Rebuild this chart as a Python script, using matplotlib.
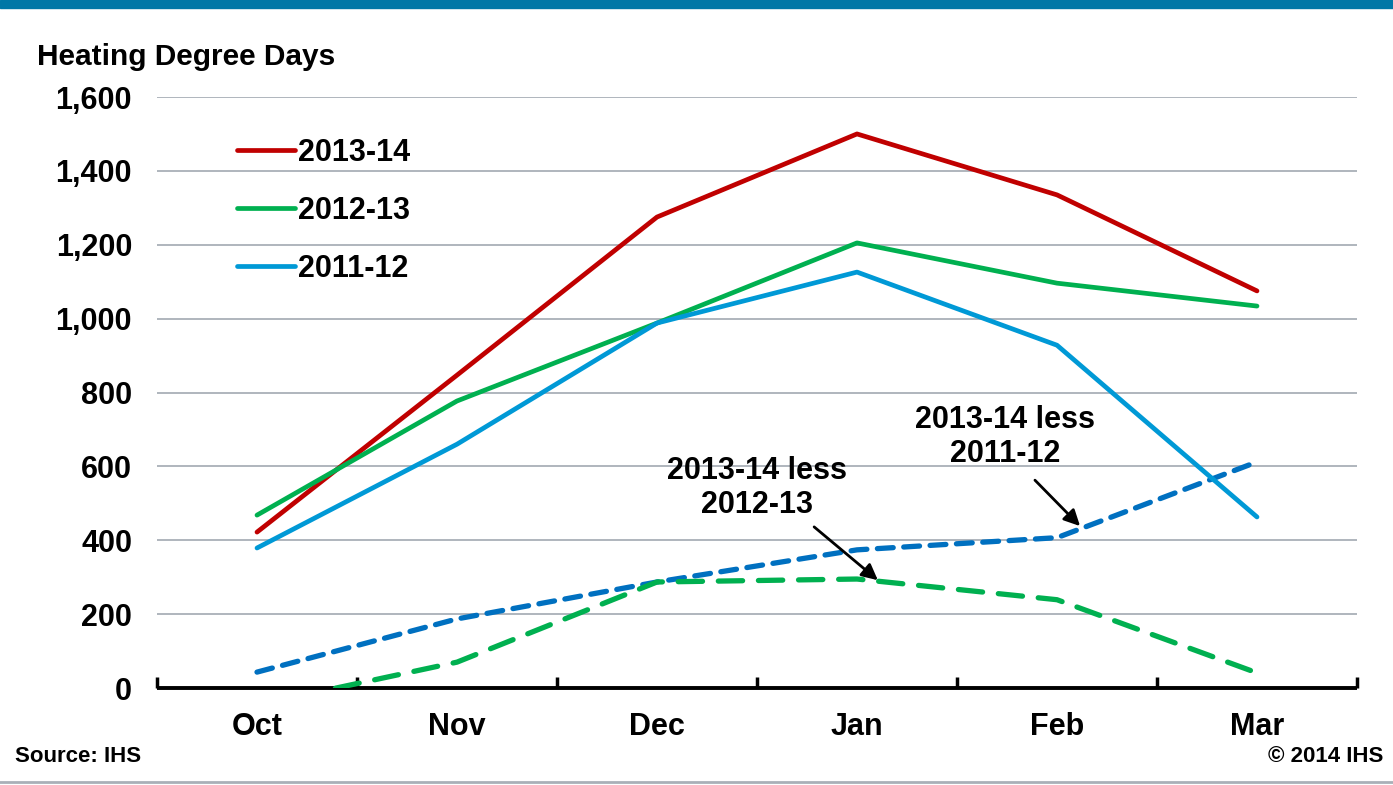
import numpy as np
import matplotlib.pyplot as plt
from matplotlib.patches import Rectangle
from matplotlib.lines import Line2D

plt.rcParams['font.family'] = ['Liberation Sans', 'DejaVu Sans']
plt.rcParams['font.weight'] = 'bold'

# Data
months = ['Oct', 'Nov', 'Dec', 'Jan', 'Feb', 'Mar']
hdd_2013_14 = [422, 847, 1275, 1500, 1335, 1075]
hdd_2012_13 = [468, 777, 988, 1205, 1096, 1034]
hdd_2011_12 = [379, 660, 988, 1126, 928, 463]
less_2012_13 = [-46, 70, 287, 295, 239, 41]
less_2011_12 = [43, 187, 287, 374, 407, 612]
yticks = [0, 200, 400, 600, 800, 1000, 1200, 1400, 1600]

fig = plt.figure(figsize=(13.93, 7.85), dpi=100)
ax = fig.add_axes([157 / 1393, 1 - 688 / 785, 1200 / 1393, 591 / 785])

x = np.arange(len(months))

# decoration: top band and bottom rule
fig.patches.append(Rectangle((0, 1 - 8 / 785), 1, 8 / 785, transform=fig.transFigure,
                             color='#0077A6', zorder=0))
fig.lines.append(Line2D([0, 1], [1 - 782 / 785] * 2, transform=fig.transFigure,
                        color='#A9B0B8', lw=2))

ax.plot(x, hdd_2013_14, color='#C00000', lw=3.4, solid_capstyle='round', label='2013-14', zorder=4)
ax.plot(x, hdd_2012_13, color='#00B050', lw=3.4, solid_capstyle='round', label='2012-13', zorder=4)
ax.plot(x, hdd_2011_12, color='#0099D6', lw=3.4, solid_capstyle='round', label='2011-12', zorder=4)
ax.plot(x, less_2011_12, color='#0070C0', lw=3.8, dashes=(3.0, 2.0), dash_capstyle='round', zorder=3)
ax.plot(x, less_2012_13, color='#00B050', lw=3.8, dashes=(4.6, 3.0), dash_capstyle='round', zorder=3)

ax.set_xlim(-0.5, len(months) - 0.5)
ax.set_ylim(0, 1600)
ax.set_yticks(yticks)
ax.set_yticklabels([f'{v:,}' for v in yticks], fontsize=22, fontweight='bold')
ax.yaxis.grid(True, color='#A9B0B8', lw=1.3)
ax.set_axisbelow(True)
ax.tick_params(axis='y', length=0, pad=18)

ax.set_xticks(x)
ax.set_xticklabels(months, fontsize=22, fontweight='bold')
ax.set_xticks(np.arange(-0.5, len(months)), minor=True)
ax.tick_params(axis='x', which='major', length=0, pad=17)
ax.tick_params(axis='x', which='minor', direction='in', length=8, width=2.5, color='black')

for s in ['top', 'right', 'left']:
    ax.spines[s].set_visible(False)
ax.spines['bottom'].set_linewidth(2.8)
ax.spines['bottom'].set_capstyle('butt')

leg = ax.legend(loc='upper left', bbox_to_anchor=(0.0667, 0.931), frameon=False,
                fontsize=22, handlelength=1.9, handletextpad=0.1, labelspacing=0.92,
                borderpad=0, borderaxespad=0)
for t in leg.get_texts():
    t.set_fontweight('bold')

# annotations
ax.text(2.5, 541, '2013-14 less\n2012-13', ha='center', va='center', fontsize=22,
        fontweight='bold', linespacing=1.15)
ax.annotate('', xy=(3.115, 287), xytext=(2.775, 441),
            arrowprops=dict(arrowstyle='-|>', color='black', lw=2, mutation_scale=24))
ax.text(3.74, 679, '2013-14 less\n2011-12', ha='center', va='center', fontsize=22,
        fontweight='bold', linespacing=1.15)
ax.annotate('', xy=(4.125, 433), xytext=(3.88, 568),
            arrowprops=dict(arrowstyle='-|>', color='black', lw=2, mutation_scale=24))

fig.text(37 / 1393, 1 - 57 / 785, 'Heating Degree Days', fontsize=21.5, fontweight='bold',
         ha='left', va='center')
fig.text(15 / 1393, 1 - 757 / 785, 'Source: IHS', fontsize=16, fontweight='bold',
         ha='left', va='center')
fig.text(1383 / 1393, 1 - 757 / 785, '\u00a9 2014 IHS', fontsize=16, fontweight='bold',
         ha='right', va='center')

fig.savefig('out.png', dpi=100)
